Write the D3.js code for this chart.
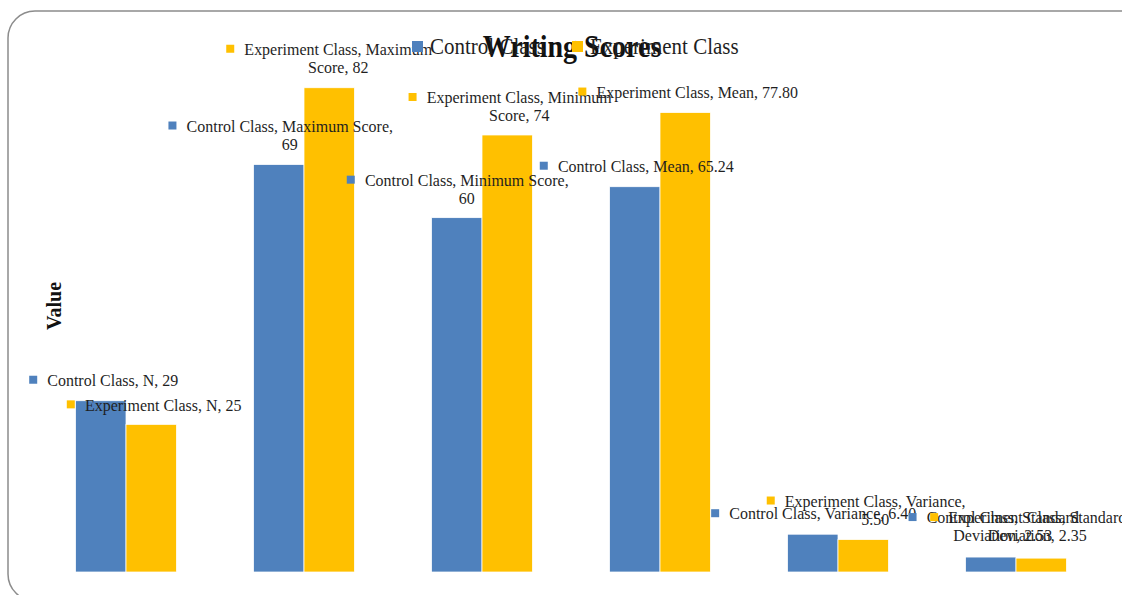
<!DOCTYPE html>
<html>
<head>
<meta charset="utf-8">
<script src="https://cdn.jsdelivr.net/npm/d3@7"></script>
<style>
	body { margin: 0; background: #fff; }
	svg { display: block; }
	text { font-family: "Liberation Serif", "Times New Roman", serif; }
</style>
</head>
<body>
<script>
// chart data
const categories = ["N", "Maximum Score", "Minimum Score", "Mean", "Variance", "Standard Deviation"];
const seriesNames = ["Control Class", "Experiment Class"];
const controlValues = [29, 69, 60, 65.24, 6.40, 2.53];
const experimentValues = [25, 82, 74, 77.80, 5.50, 2.35];
const labelDecimals = [0, 0, 0, 2, 2, 2];

// where Excel dragged each data label, relative to the top centre of its bar
const controlLabelOffsets = [[12, -21], [11, -39], [10, -38], [11, -21], [10, -21], [12, -40]];
const experimentLabelOffsets = [[12, -20], [9, -39], [12, -38], [12, -21], [12, -39], [-4, -41]];

const colors = ["#4F81BD", "#FFC000"];
const width = 1122, height = 595;
const stretch = 1.1; // the source text is a little taller than it is wide

const svg = d3.select("body").append("svg")
	.attr("width", width)
	.attr("height", height);

// chart area frame
svg.append("rect")
	.attr("x", 8)
	.attr("y", 11)
	.attr("width", 1140)
	.attr("height", 590)
	.attr("rx", 27)
	.style("fill", "#fff")
	.style("stroke", "#8c8c8c")
	.style("stroke-width", 1.5);

const x0 = d3.scaleBand().domain(categories).range([37, 1105])
	.paddingInner(0.433).paddingOuter(0.2165);
const x1 = d3.scaleBand().domain(seriesNames).range([0, x0.bandwidth()]);
const y = d3.scaleLinear().domain([0, 90]).range([572, 40.5]);

const series = [controlValues, experimentValues];
const offsets = [controlLabelOffsets, experimentLabelOffsets];

const bars = [];
seriesNames.forEach((name, s) => {
	categories.forEach((cat, i) => {
		bars.push({ name, cat, i, s, value: series[s][i] });
	});
});

svg.append("g").selectAll("rect")
	.data(bars)
	.enter()
	.append("rect")
	.attr("x", d => x0(d.cat) + x1(d.name))
	.attr("y", d => y(d.value))
	.attr("width", x1.bandwidth())
	.attr("height", d => y(0) - y(d.value))
	.style("fill", d => colors[d.s])
	.style("stroke", "#fff")
	.style("stroke-width", 0.75);

// data labels
const labelFont = 16;
const measure = svg.append("text").style("font-size", labelFont + "px").style("visibility", "hidden");
function textWidth(str) {
	measure.text(str);
	return measure.node().getComputedTextLength();
}
function wrap(str, maxWidth) {
	const words = str.split(" ");
	const lines = [];
	let line = words[0];
	for (let k = 1; k < words.length; k++) {
		const test = line + " " + words[k];
		if (textWidth(test) > maxWidth) {
			lines.push(line);
			line = words[k];
		} else {
			line = test;
		}
	}
	lines.push(line);
	return lines;
}

const labelLayer = svg.append("g");
bars.forEach(d => {
	const valueText = d3.format("." + labelDecimals[d.i] + "f")(d.value);
	const lines = wrap(`${d.name}, ${d.cat}, ${valueText}`, 209);
	const off = offsets[d.s][d.i];
	const cx = x0(d.cat) + x1(d.name) + x1.bandwidth() / 2 + off[0];
	const cy = y(d.value) + off[1];

	const g = labelLayer.append("g")
		.attr("transform", `translate(${cx},${cy}) scale(1,${stretch})`);
	lines.forEach((ln, k) => {
		g.append("text")
			.attr("x", 0)
			.attr("y", k * 18 / stretch)
			.attr("dy", "0.35em")
			.attr("text-anchor", "middle")
			.style("font-size", labelFont + "px")
			.style("fill", "#1f1f1f")
			.text(ln);
	});
	const first = textWidth(lines[0]);
	labelLayer.append("rect")
		.attr("x", cx - first / 2 - 18)
		.attr("y", cy - 4)
		.attr("width", 8)
		.attr("height", 8)
		.style("fill", colors[d.s]);
});
measure.remove();

// title
svg.append("text")
	.attr("transform", `translate(572,57) scale(1,${stretch})`)
	.attr("text-anchor", "middle")
	.style("font-size", "28px")
	.style("font-weight", "bold")
	.style("fill", "#111")
	.text("Writing Scores");

// legend
const legendX = [412, 572];
seriesNames.forEach((name, s) => {
	svg.append("rect")
		.attr("x", legendX[s])
		.attr("y", 41)
		.attr("width", 11)
		.attr("height", 11)
		.style("fill", colors[s]);
	svg.append("text")
		.attr("transform", `translate(${legendX[s] + 18},54) scale(1,${stretch})`)
		.style("font-size", "21px")
		.style("fill", "#1f1f1f")
		.text(name);
});

// y axis title
svg.append("text")
	.attr("transform", "translate(61,306) rotate(-90)")
	.attr("text-anchor", "middle")
	.style("font-size", "20px")
	.style("font-weight", "bold")
	.style("fill", "#111")
	.text("Value");
</script>
</body>
</html>
